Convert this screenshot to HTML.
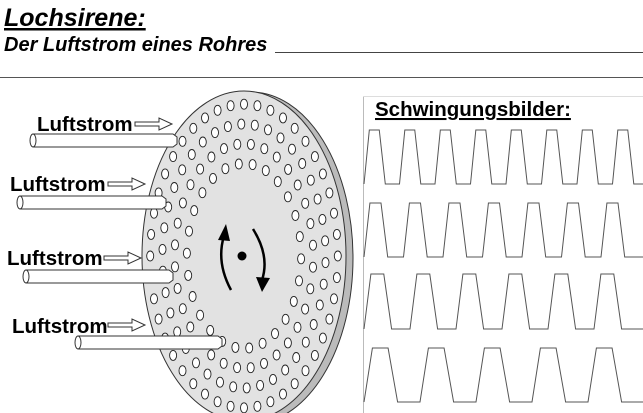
<!DOCTYPE html>
<html><head><meta charset="utf-8"><style>
body{margin:0;background:#fff;width:643px;height:413px;overflow:hidden;position:relative;font-family:"Liberation Sans",sans-serif}
</style></head><body>
<svg id="s" width="643" height="413" viewBox="0 0 643 413" xmlns="http://www.w3.org/2000/svg" style="position:absolute;left:0;top:0">
<text x="4" y="26" font-size="25" font-style="italic" font-weight="bold" text-decoration="underline" font-family="Liberation Sans, sans-serif">Lochsirene:</text>
<text x="4" y="51" font-size="20" font-style="italic" font-weight="bold" font-family="Liberation Sans, sans-serif">Der Luftstrom eines Rohres</text>
<line x1="275" y1="52.5" x2="643" y2="52.5" stroke="#444" stroke-width="1"/>
<line x1="0" y1="77.5" x2="643" y2="77.5" stroke="#555" stroke-width="1"/>
<line x1="363.5" y1="96" x2="363.5" y2="413" stroke="#bbb" stroke-width="1"/>
<line x1="363" y1="96.5" x2="643" y2="96.5" stroke="#ddd" stroke-width="1"/>
<text x="375" y="116" font-size="20.5" font-weight="bold" text-decoration="underline" font-family="Liberation Sans, sans-serif">Schwingungsbilder:</text>
<g id="waves" fill="none" stroke="#555" stroke-width="1"></g>
<ellipse cx="251" cy="258" rx="102" ry="166" fill="#bbb" stroke="#333" stroke-width="1"/>
<ellipse cx="244" cy="256" rx="102" ry="165" fill="#e2e2e2" stroke="#333" stroke-width="1"/>
<g id="holes" fill="#fff" stroke="#222" stroke-width="0.9"></g>
<circle cx="242" cy="256" r="4.5" fill="#000"/>
<path d="M231 290 Q216 262 224 236" fill="none" stroke="#000" stroke-width="2.5"/>
<polygon points="218,240 226,224 230,241" fill="#000"/>
<path d="M253 229 Q270 256 262 280" fill="none" stroke="#000" stroke-width="2.5"/>
<polygon points="256,277 262,292 270,278" fill="#000"/>
<g id="tubes" fill="#fff" stroke="#333" stroke-width="1"></g>
<g font-size="20.5" font-weight="bold" font-family="Liberation Sans, sans-serif">
<text x="37" y="131">Luftstrom</text>
<text x="10" y="191">Luftstrom</text>
<text x="7" y="265">Luftstrom</text>
<text x="12" y="333">Luftstrom</text>
</g>
<g id="arrows" fill="#fff" stroke="#333" stroke-width="1"></g>
</svg>
<script>
var NS="http://www.w3.org/2000/svg";
function el(p,t,a){var e=document.createElementNS(NS,t);for(var k in a)e.setAttribute(k,a[k]);document.getElementById(p).appendChild(e);}
[[130,184,35.5,8],[203,257,39.5,7],[274,329,46,6],[348,402,56,5]].forEach(function(r){
 var top=r[0],bot=r[1],P=r[2],n=r[3],x=364,d="M"+x+" "+bot;
 for(var i=0;i<n;i++){var b=x+i*P;d+=" L"+(b+P*0.15)+" "+top+" L"+(b+P*0.43)+" "+top+" L"+(b+P*0.6)+" "+bot+" L"+(b+P)+" "+bot;}
 d=d.replace(/ L[^L]*$/," L643 "+bot);
 el("waves","path",{d:d});
});
var rings=[[0.92,44,0],[0.8,38,0.05],[0.68,32,0.1],[0.56,26,0.03]];
rings.forEach(function(r){for(var i=0;i<r[1];i++){var a=2*Math.PI*i/r[1]+r[2];
 var x=244+102*r[0]*Math.cos(a),y=256+165*r[0]*Math.sin(a);
 if(y>420)continue; el("holes","ellipse",{cx:x.toFixed(1),cy:y.toFixed(1),rx:3.5,ry:5});}});
[[33,134,177],[20,196,166],[26,270,173],[78,336,222]].forEach(function(t){
 var x0=t[0],y=t[1],x1=t[2],h=13;
 el("tubes","path",{d:"M"+x0+" "+y+" L"+(x1-4)+" "+y+" L"+x1+" "+(y+3)+" L"+x1+" "+(y+h-3)+" L"+(x1-4)+" "+(y+h)+" L"+x0+" "+(y+h)+" Z"});
 el("tubes","ellipse",{cx:x0,cy:y+h/2,rx:3,ry:h/2});
});
[[135,124],[108,184],[104,258],[108,325]].forEach(function(a){
 var x=a[0],y=a[1];
 el("arrows","path",{d:"M"+x+" "+(y-2)+" L"+(x+24)+" "+(y-2)+" L"+(x+24)+" "+(y-6)+" L"+(x+37)+" "+y+" L"+(x+24)+" "+(y+6)+" L"+(x+24)+" "+(y+2)+" L"+x+" "+(y+2)+" Z"});
});
</script>
</body></html>
